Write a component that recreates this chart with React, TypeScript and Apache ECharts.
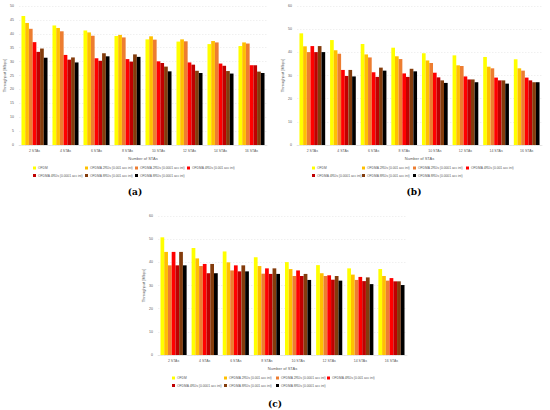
import React, { useEffect, useRef } from "react";
import * as echarts from "echarts";

const categories = ["2 STAs", "4 STAs", "6 STAs", "8 STAs", "10 STAs", "12 STAs", "14 STAs", "16 STAs"];
const seriesNames = [
  "OFDM",
  "OFDMA 2RUs (0.001 acc int)",
  "OFDMA 2RUs (0.0001 acc int)",
  "OFDMA 4RUs (0.001 acc int)",
  "OFDMA 4RUs (0.0001 acc int)",
  "OFDMA 8RUs (0.001 acc int)",
  "OFDMA 8RUs (0.0001 acc int)",
];
const colors = ["#FFFF00", "#FFC000", "#ED7D31", "#FF0000", "#C00000", "#843C0C", "#000000"];

// (a)
const aOFDM = [46.4, 43.0, 41.2, 39.2, 38.0, 37.2, 36.3, 35.6];
const a2RU001 = [43.9, 42.1, 40.5, 39.6, 39.1, 38.0, 37.4, 36.9];
const a2RU0001 = [41.8, 40.9, 39.3, 38.7, 37.9, 37.3, 36.9, 36.5];
const a4RU001 = [37.0, 32.4, 31.2, 30.9, 30.1, 29.7, 29.3, 28.7];
const a4RU0001 = [33.5, 30.7, 30.3, 30.0, 29.5, 28.9, 28.5, 28.7];
const a8RU001 = [34.7, 31.5, 33.0, 32.6, 28.2, 26.7, 26.6, 26.4];
const a8RU0001 = [31.4, 29.7, 31.9, 31.7, 26.5, 25.9, 25.7, 25.9];

// (b)
const bOFDM = [48.2, 45.3, 43.6, 42.0, 39.6, 38.7, 38.0, 37.0];
const b2RU001 = [42.6, 40.9, 39.1, 38.3, 36.5, 34.4, 33.8, 33.1];
const b2RU0001 = [40.1, 39.4, 37.8, 37.1, 35.4, 34.1, 33.1, 32.1];
const b4RU001 = [42.7, 32.4, 31.4, 30.9, 31.2, 29.6, 29.1, 29.1];
const b4RU0001 = [40.1, 29.8, 29.4, 29.4, 29.2, 28.3, 27.9, 27.9];
const b8RU001 = [42.7, 32.4, 33.4, 32.9, 27.9, 28.3, 27.9, 27.1];
const b8RU0001 = [40.1, 29.6, 32.1, 31.8, 26.8, 27.1, 26.5, 27.1];

// (c)
const cOFDM = [50.8, 46.2, 44.7, 42.2, 40.1, 38.8, 37.4, 37.1];
const c2RU001 = [44.5, 41.7, 40.0, 38.4, 37.1, 35.3, 34.7, 34.1];
const c2RU0001 = [38.7, 38.4, 36.5, 35.1, 34.1, 34.1, 32.4, 32.1];
const c4RU001 = [44.5, 39.3, 38.7, 37.4, 36.5, 34.4, 33.7, 33.2];
const c4RU0001 = [38.7, 35.3, 36.1, 35.0, 34.1, 32.5, 31.9, 31.8];
const c8RU001 = [44.5, 39.3, 38.7, 37.4, 35.0, 34.1, 33.5, 31.8];
const c8RU0001 = [38.7, 35.3, 36.1, 35.0, 32.4, 32.1, 30.6, 30.2];

const yMaxA = 50;
const yStepA = 5;
const yMaxBC = 60;
const yStepBC = 10;

const panels = [
  {
    values: [aOFDM, a2RU001, a2RU0001, a4RU001, a4RU0001, a8RU001, a8RU0001],
    max: yMaxA,
    step: yStepA,
    grid: { left: 19, top: 6, width: 248, height: 139 },
    legendX: [33, 85, 135, 187],
    legendY: 166,
    caption: "(a)",
    captionPos: [135, 192],
  },
  {
    values: [bOFDM, b2RU001, b2RU0001, b4RU001, b4RU0001, b8RU001, b8RU0001],
    max: yMaxBC,
    step: yStepBC,
    grid: { left: 297, top: 6, width: 245, height: 139 },
    legendX: [312, 362, 413, 466],
    legendY: 166,
    caption: "(b)",
    captionPos: [414, 192],
  },
  {
    values: [cOFDM, c2RU001, c2RU0001, c4RU001, c4RU0001, c8RU001, c8RU0001],
    max: yMaxBC,
    step: yStepBC,
    grid: { left: 158, top: 216, width: 249, height: 139 },
    legendX: [172, 224, 276, 327],
    legendY: 376,
    caption: "(c)",
    captionPos: [275, 404],
  },
];

const legendColumns = [[0, 4], [1, 5], [2, 6], [3]];

export default function App() {
  const ref = useRef<HTMLDivElement>(null);
  useEffect(() => {
    if (!ref.current) return;
    const chart = echarts.init(ref.current, null, { renderer: "svg" });
    const labelColor = "#595959";
    const grids: any[] = [];
    const xAxes: any[] = [];
    const yAxes: any[] = [];
    const series: any[] = [];
    const legends: any[] = [];
    const graphics: any[] = [];
    panels.forEach((p, pi) => {
      grids.push({ ...p.grid, containLabel: false });
      xAxes.push({
        type: "category",
        gridIndex: pi,
        data: categories,
        name: "Number of STAs",
        nameLocation: "middle",
        nameGap: 11,
        nameTextStyle: { fontSize: 4, color: labelColor, fontFamily: "Liberation Sans" },
        axisLine: { lineStyle: { color: "#d9d9d9", width: 0.6 } },
        axisTick: { show: false },
        axisLabel: { fontSize: 3.5, color: labelColor, margin: 4, fontFamily: "Liberation Sans" },
      });
      yAxes.push({
        type: "value",
        gridIndex: pi,
        min: 0,
        max: p.max,
        interval: p.step,
        name: "Throughput [Mbps]",
        nameLocation: "middle",
        nameGap: 11,
        nameTextStyle: { fontSize: 4, color: labelColor, fontFamily: "Liberation Sans" },
        axisLine: { show: false },
        axisTick: { show: false },
        axisLabel: { fontSize: 3.5, color: labelColor, margin: 5, fontFamily: "Liberation Sans" },
        splitLine: { lineStyle: { color: "#e0e0e0", width: 0.5, type: [1.5, 1.5] } },
      });
      p.values.forEach((vals, si) => {
        series.push({
          type: "bar",
          name: seriesNames[si],
          xAxisIndex: pi,
          yAxisIndex: pi,
          data: vals,
          itemStyle: { color: colors[si] },
          barGap: "0%",
          barCategoryGap: "16%",
        });
      });
      legendColumns.forEach((col, ci) => {
        legends.push({
          orient: "vertical",
          left: p.legendX[ci],
          top: p.legendY,
          padding: 0,
          itemGap: 3.5,
          itemWidth: 3,
          itemHeight: 3,
          icon: "rect",
          selectedMode: false,
          data: col.map((i) => seriesNames[i]),
          textStyle: { fontSize: 3.3, lineHeight: 4, color: labelColor, fontFamily: "Liberation Sans", padding: [0, 0, 0, -3] },
        });
      });
      graphics.push({
        type: "text",
        x: p.captionPos[0],
        y: p.captionPos[1],
        style: {
          text: p.caption,
          fontSize: 9,
          fontWeight: "bold",
          fontFamily: "DejaVu Serif",
          fill: "#000",
          align: "center",
          verticalAlign: "middle",
        },
      });
    });
    chart.setOption({
      animation: false,
      backgroundColor: "#ffffff",
      grid: grids,
      xAxis: xAxes,
      yAxis: yAxes,
      series,
      legend: legends,
      graphic: graphics,
    });
    return () => chart.dispose();
  }, []);
  return <div ref={ref} style={{ position: "fixed", left: 0, top: 0, width: 550, height: 410 }} />;
}
